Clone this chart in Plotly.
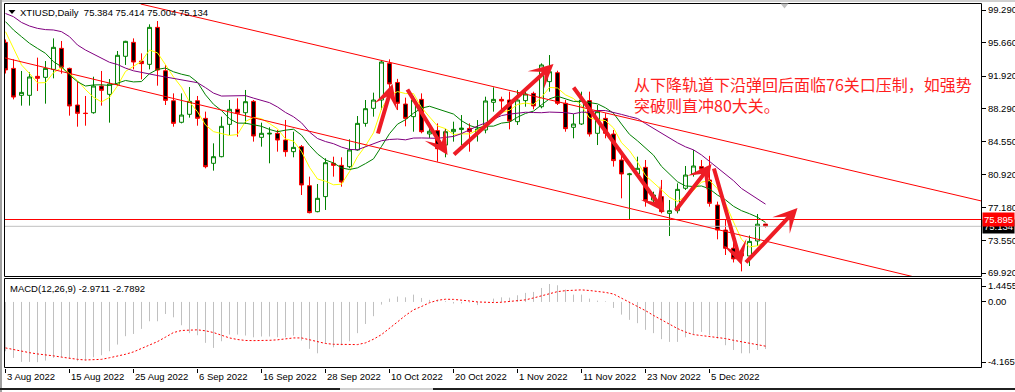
import plotly.graph_objects as go

# ---------------- data ----------------
date_labels = ["3 Aug 2022", "15 Aug 2022", "25 Aug 2022", "6 Sep 2022", "16 Sep 2022",
               "28 Sep 2022", "10 Oct 2022", "20 Oct 2022", "1 Nov 2022", "11 Nov 2022",
               "23 Nov 2022", "5 Dec 2022"]
date_idx = [0, 8, 16, 24, 32, 40, 48, 56, 64, 72, 80, 88]

opens = [95.68, 92.77, 89.76, 89.76, 91.88, 91.77, 92.66, 95.01, 92.77, 88.68,
         87.77, 87.82, 90.80, 89.87, 90.99, 94.12, 95.68, 93.59, 93.22, 97.35,
         92.51, 89.16, 86.75, 87.64, 89.16, 87.19, 82.17, 82.91, 86.52, 88.20,
         87.82, 89.09, 85.07, 85.44, 85.52, 84.77, 83.47, 84.03, 79.67, 76.77,
         78.45, 82.17, 81.94, 81.79, 83.66, 86.63, 88.31, 89.24, 93.33, 91.20,
         88.79, 87.38, 89.31, 85.45, 85.82, 84.21, 85.70, 85.94, 86.07, 85.60,
         85.89, 88.98, 89.31, 89.24, 86.82, 89.17, 89.98, 88.49, 91.29, 92.29,
         88.87, 86.19, 86.56, 89.17, 85.52, 87.19, 85.44, 82.54, 80.90, 80.98,
         81.72, 78.07, 78.45, 76.58, 76.88, 79.38, 80.98, 81.80, 80.31, 77.51,
         74.72, 72.70, 72.12, 71.82, 73.50, 75.384]
highs = [96.00, 93.78, 92.48, 92.33, 93.97, 93.59, 96.12, 95.83, 92.85, 91.29,
         89.69, 91.84, 92.48, 91.58, 94.71, 95.85, 96.12, 94.45, 97.69, 98.06,
         93.15, 89.98, 89.98, 90.69, 89.69, 87.94, 84.40, 87.38, 89.24, 89.43,
         90.36, 89.24, 86.71, 86.19, 85.89, 87.01, 85.70, 84.21, 80.68, 79.86,
         82.73, 82.91, 82.84, 84.85, 87.45, 89.24, 90.06, 93.71, 93.78, 91.60,
         89.50, 89.69, 89.98, 86.40, 86.63, 86.00, 86.82, 87.56, 86.63, 87.00,
         89.61, 90.65, 89.61, 90.17, 90.36, 90.54, 90.17, 93.33, 94.26, 92.51,
         89.24, 87.68, 90.17, 90.17, 88.68, 87.75, 85.89, 83.10, 81.10, 82.91,
         82.54, 79.00, 80.31, 78.07, 79.93, 81.87, 83.66, 82.54, 83.00, 77.89,
         75.84, 73.40, 72.60, 74.10, 76.51, 75.414]
lows = [92.20, 89.31, 88.61, 88.61, 90.24, 88.83, 91.66, 92.18, 87.49, 86.26,
        86.37, 87.71, 88.61, 86.71, 90.80, 93.15, 92.66, 91.55, 92.66, 90.84,
        88.68, 86.26, 86.63, 87.27, 86.37, 81.61, 81.35, 82.84, 85.33, 85.14,
        86.56, 84.59, 84.03, 82.17, 83.47, 82.91, 82.84, 78.63, 76.58, 76.70,
        76.96, 80.68, 79.56, 81.61, 83.58, 86.26, 87.38, 88.12, 89.98, 88.12,
        86.30, 85.70, 85.52, 85.00, 82.35, 82.84, 84.59, 84.21, 83.47, 84.60,
        85.52, 87.94, 87.94, 85.96, 86.45, 88.49, 88.20, 88.31, 90.17, 88.68,
        85.70, 84.96, 86.45, 85.15, 84.21, 84.96, 81.80, 78.26, 75.84, 80.68,
        77.33, 77.70, 76.58, 74.05, 76.58, 79.19, 80.68, 80.86, 77.33, 73.68,
        71.93, 71.10, 70.10, 70.70, 72.94, 75.004]
closes = [92.60, 89.57, 90.09, 91.81, 91.66, 92.77, 95.12, 92.89, 88.57, 87.75,
          87.73, 90.80, 90.32, 91.03, 94.23, 95.79, 93.48, 93.30, 97.35, 92.59,
          89.20, 86.63, 87.56, 89.09, 87.19, 81.79, 82.91, 86.30, 88.20, 87.75,
          89.05, 85.22, 85.52, 85.52, 84.77, 83.47, 83.95, 79.75, 76.66, 78.26,
          82.24, 81.94, 80.08, 83.66, 86.63, 88.27, 89.24, 93.48, 91.03, 88.87,
          87.19, 89.24, 85.70, 85.75, 83.80, 85.70, 85.96, 86.10, 85.70, 86.00,
          89.13, 89.31, 89.13, 86.89, 89.24, 89.91, 88.57, 93.15, 92.40, 88.87,
          86.04, 86.56, 89.24, 85.44, 87.94, 85.52, 82.47, 80.98, 80.98, 81.61,
          77.99, 78.63, 76.77, 76.88, 79.26, 80.86, 81.87, 81.50, 77.70, 74.72,
          72.68, 71.50, 71.82, 73.45, 75.37, 75.134]

ma_yellow = [96.87, 95.00, 93.15, 92.20, 91.15, 91.18, 92.29, 92.85, 92.20, 91.42,
             90.41, 89.55, 89.03, 89.53, 90.82, 92.43, 92.97, 93.57, 94.83, 94.50,
             93.18, 91.81, 90.67, 89.01, 87.93, 86.45, 85.71, 85.46, 85.28, 85.39,
             86.84, 87.30, 87.15, 86.61, 86.02, 84.90, 84.65, 83.49, 81.72, 80.42,
             80.17, 79.77, 79.84, 81.24, 82.91, 84.12, 85.58, 88.26, 89.73, 90.18,
             89.96, 89.96, 88.41, 87.35, 86.34, 86.04, 85.38, 85.46, 85.45, 85.89,
             86.58, 87.25, 87.85, 88.09, 88.74, 88.90, 88.75, 89.55, 90.65, 90.58,
             89.81, 89.40, 88.62, 87.23, 87.04, 86.94, 86.12, 84.47, 83.58, 82.31,
             80.81, 80.04, 79.20, 78.38, 77.91, 78.48, 79.13, 80.07, 80.24, 79.33,
             77.69, 75.62, 73.68, 72.83, 72.96, 73.45]
ma_green = [97.99, 97.06, 96.31, 95.57, 95.00, 94.45, 93.52, 92.96, 92.03, 91.28,
            90.80, 90.92, 90.94, 90.86, 91.12, 91.42, 91.26, 91.30, 92.18, 92.66,
            92.81, 92.39, 92.12, 91.92, 91.22, 89.82, 88.76, 88.06, 87.15, 86.66,
            86.65, 86.51, 86.30, 85.95, 85.70, 85.87, 85.98, 85.32, 84.17, 83.22,
            82.54, 82.21, 81.66, 81.48, 81.66, 82.14, 82.67, 84.05, 85.48, 86.54,
            87.04, 87.77, 88.33, 88.54, 88.26, 88.00, 87.67, 86.93, 86.40, 86.11,
            86.31, 86.32, 86.66, 86.77, 87.32, 87.74, 88.00, 88.70, 89.37, 89.66,
            89.35, 89.08, 89.09, 88.94, 88.81, 88.37, 87.76, 86.55, 85.40, 84.68,
            83.87, 83.08, 81.83, 80.98, 80.11, 79.64, 79.58, 79.64, 79.31, 78.62,
            78.09, 77.37, 76.88, 76.54, 76.15, 75.57]
ma_purple = [98.90, 98.54, 97.90, 97.50, 97.24, 97.10, 97.06, 96.87, 96.31, 95.38,
             94.82, 94.34, 93.89, 93.45, 93.20, 92.80, 92.50, 92.30, 92.10, 91.97,
             91.81, 91.66, 91.53, 91.39, 91.17, 90.62, 90.01, 89.68, 89.67, 89.66,
             89.73, 89.45, 89.21, 88.94, 88.46, 87.85, 87.37, 86.69, 85.66, 84.94,
             84.60, 84.36, 83.98, 83.72, 83.68, 84.01, 84.33, 84.69, 84.83, 84.88,
             84.79, 84.99, 85.00, 85.01, 84.96, 85.07, 85.17, 85.49, 85.94, 86.33,
             86.68, 87.05, 87.50, 87.66, 87.79, 87.87, 87.84, 87.82, 87.89, 87.89,
             87.83, 87.70, 87.88, 87.86, 88.07, 88.06, 87.88, 87.63, 87.39, 87.17,
             86.61, 86.08, 85.46, 84.96, 84.46, 84.01, 83.67, 83.10, 82.36, 81.65,
             80.98, 80.23, 79.36, 78.76, 78.13, 77.61]

macd_main = [-3.11, -3.53, -3.78, -3.78, -3.80, -3.70, -3.53, -3.49, -3.57, -3.74,
             -3.70, -3.49, -3.36, -3.11, -2.69, -2.16, -2.02, -1.70, -1.22, -1.22,
             -0.76, -0.97, -1.47, -1.97, -2.10, -2.58, -2.90, -2.48, -2.06, -2.06,
             -2.12, -2.23, -2.18, -2.18, -2.23, -2.23, -2.12, -2.44, -2.96, -3.24,
             -2.61, -2.86, -2.73, -2.48, -1.97, -1.39, -0.90, -0.17, 0.21, 0.34,
             0.29, 0.46, 0.25, 0.13, 0.13, 0.05, -0.10, -0.10, -0.04, -0.20,
             0.02, 0.21, 0.29, 0.27, 0.42, 0.57, 0.63, 0.88, 1.13, 1.05,
             0.78, 0.46, 0.46, 0.21, 0.08, 0.04, -0.38, -0.80, -1.13, -1.34,
             -1.76, -1.97, -2.35, -2.52, -2.52, -2.23, -2.06, -1.89, -2.10, -2.31,
             -2.73, -3.03, -3.24, -3.24, -3.03, -2.9711]
macd_signal = [-2.90, -3.00, -3.13, -3.20, -3.28, -3.33, -3.40, -3.48, -3.57, -3.62,
               -3.66, -3.66, -3.62, -3.52, -3.42, -3.30, -3.15, -2.95, -2.75, -2.50,
               -2.22, -1.93, -1.80, -1.76, -1.76, -1.82, -1.93, -2.10, -2.27, -2.37,
               -2.43, -2.44, -2.44, -2.42, -2.39, -2.33, -2.27, -2.27, -2.38, -2.48,
               -2.62, -2.67, -2.69, -2.70, -2.69, -2.58, -2.35, -2.06, -1.68, -1.26,
               -0.85, -0.50, -0.29, -0.05, 0.10, 0.17, 0.16, 0.13, 0.06, 0.00,
               -0.03, -0.04, -0.02, 0.03, 0.08, 0.13, 0.25, 0.38, 0.55, 0.65,
               0.71, 0.75, 0.76, 0.72, 0.67, 0.60, 0.50, 0.25, -0.04, -0.30,
               -0.55, -0.85, -1.13, -1.42, -1.68, -1.90, -2.06, -2.12, -2.18, -2.25,
               -2.31, -2.42, -2.52, -2.60, -2.68, -2.7892]

price_ticks = [99.29, 95.66, 91.92, 88.29, 84.55, 80.92, 77.18, 73.55, 69.92]
price_tick_text = ["99.290", "95.660", "91.920", "88.290", "84.550", "80.920", "77.180", "73.550", "69.920"]
macd_ticks = [1.004, 0.0, -3.788]
macd_tick_text = ["1.4455", "0.00", "-4.1659"]

level_red = 75.895
level_gray = 75.134

chan_upper_x = [16.9, 122.0]
chan_upper_y = [99.96, 77.96]
chan_lower_x = [-0.2, 122.0]
chan_lower_y = [93.97, 67.67]

arrow_tail_x = [46.5, 50.125, 55.875, 70.875, 83.625, 88.5, 92.375]
arrow_tail_y = [85.33, 90.58, 82.99, 90.80, 76.73, 81.76, 70.93]
arrow_head_x = [48.375, 55.25, 68.5, 82.375, 88.25, 92.0, 99.0]
arrow_head_y = [91.03, 83.10, 93.26, 76.73, 82.09, 70.81, 77.18]

title_text = "XTIUSD,Daily  75.384 75.414 75.004 75.134"
macd_text = "MACD(12,26,9) -2.9711 -2.7892"
comment_text = "从下降轨道下沿弹回后面临76关口压制，如强势<br>突破则直冲80大关。"

# ---------------- geometry helpers (pixel -> paper) ----------------
W, H = 1015, 392
ML, MR, MT, MB = 4, 34, 4, 24
PW, PH = W - ML - MR, H - MT - MB


def px(X):
    return (X - ML) / PW


def py(Y):
    return (H - MB - Y) / PH


FONT = "Liberation Sans, Arial, sans-serif"
xs = list(range(len(opens)))
x_min, x_max = -0.1875, -0.1875 + PW / 8.0

fig = go.Figure()

fig.add_trace(go.Candlestick(
    x=xs, open=opens, high=highs, low=lows, close=closes,
    increasing=dict(line=dict(color="#008000", width=1), fillcolor="#FFFFFF"),
    decreasing=dict(line=dict(color="#FF0000", width=1), fillcolor="#000000"),
    whiskerwidth=0, hoverinfo="skip", xaxis="x", yaxis="y"))

for ser, col in [(ma_yellow, "#FFFF00"), (ma_green, "#008000"), (ma_purple, "#800080")]:
    fig.add_trace(go.Scatter(x=xs, y=ser, mode="lines", line=dict(color=col, width=1),
                             hoverinfo="skip", xaxis="x", yaxis="y"))

fig.add_trace(go.Scatter(x=[x_min, x_max], y=[level_gray, level_gray], mode="lines",
                         line=dict(color="#C0C0C0", width=1), hoverinfo="skip", xaxis="x", yaxis="y"))
fig.add_trace(go.Scatter(x=[x_min, x_max], y=[level_red, level_red], mode="lines",
                         line=dict(color="#FF0000", width=1), hoverinfo="skip", xaxis="x", yaxis="y"))
fig.add_trace(go.Scatter(x=chan_upper_x, y=chan_upper_y, mode="lines",
                         line=dict(color="#FF0000", width=1), hoverinfo="skip", xaxis="x", yaxis="y"))
fig.add_trace(go.Scatter(x=chan_lower_x, y=chan_lower_y, mode="lines",
                         line=dict(color="#FF0000", width=1), hoverinfo="skip", xaxis="x", yaxis="y"))

# MACD histogram as thin vertical lines
hx, hy = [], []
for i, v in enumerate(macd_main):
    hx += [i, i, None]
    hy += [0, v, None]
fig.add_trace(go.Scatter(x=hx, y=hy, mode="lines", line=dict(color="#C0C0C0", width=1),
                         hoverinfo="skip", xaxis="x", yaxis="y2"))
fig.add_trace(go.Scatter(x=xs, y=macd_signal, mode="lines",
                         line=dict(color="#FF0000", width=1, dash="2px,2px"),
                         hoverinfo="skip", xaxis="x", yaxis="y2"))

annotations = []
for lab, ix in zip(date_labels, date_idx):
    annotations.append(dict(x=ix, xref="x", y=py(377), yref="paper", text=lab, showarrow=False,
                            xanchor="left", yanchor="middle", borderpad=0,
                            font=dict(family=FONT, size=9.5, color="black")))

annotations.append(dict(x=px(19), xref="paper", y=py(12.5), yref="paper", text=title_text,
                        showarrow=False, xanchor="left", yanchor="middle", borderpad=0,
                        font=dict(family=FONT, size=9.5, color="black")))
annotations.append(dict(x=px(9), xref="paper", y=py(288), yref="paper", text=macd_text,
                        showarrow=False, xanchor="left", yanchor="middle", borderpad=0,
                        font=dict(family=FONT, size=9.5, color="black")))
annotations.append(dict(x=px(633), xref="paper", y=py(94.5), yref="paper", text=comment_text,
                        showarrow=False, xanchor="left", yanchor="middle", align="left", borderpad=0,
                        font=dict(family="Noto Sans CJK SC", size=16, color="#FF1E1E")))

for tx, ty, hx_, hy_ in zip(arrow_tail_x, arrow_tail_y, arrow_head_x, arrow_head_y):
    annotations.append(dict(x=hx_, y=hy_, xref="x", yref="y", ax=tx, ay=ty, axref="x", ayref="y",
                            text="", showarrow=True, arrowhead=3, arrowsize=1.0, arrowwidth=4,
                            arrowcolor="#EE1C25", standoff=0, startstandoff=0))

annotations.append(dict(x=px(982), xref="paper", y=level_gray, yref="y", text="75.134",
                        showarrow=False, xanchor="left", yanchor="middle", bgcolor="#000000",
                        borderpad=1, font=dict(family=FONT, size=9.5, color="white")))
annotations.append(dict(x=px(982), xref="paper", y=level_red, yref="y", text="75.895",
                        showarrow=False, xanchor="left", yanchor="middle", bgcolor="#FF0000",
                        borderpad=1, font=dict(family=FONT, size=9.5, color="white")))

shapes = [
    # panel frames
    dict(type="rect", xref="paper", yref="paper", x0=px(4.5), x1=px(981.5), y0=py(276.5), y1=py(3.5),
         line=dict(color="black", width=1)),
    dict(type="rect", xref="paper", yref="paper", x0=px(4.5), x1=px(981.5), y0=py(367.5), y1=py(278.5),
         line=dict(color="black", width=1)),
    # window edges
    dict(type="line", xref="paper", yref="paper", x0=px(1), x1=px(1), y0=py(392), y1=py(0),
         line=dict(color="#A0A0A0", width=2)),
    dict(type="line", xref="paper", yref="paper", x0=px(0), x1=px(1015), y0=py(1), y1=py(1),
         line=dict(color="#A0A0A0", width=1)),
    dict(type="line", xref="paper", yref="paper", x0=px(0), x1=px(340), y0=py(389), y1=py(389),
         line=dict(color="#202020", width=2)),
    dict(type="line", xref="paper", yref="paper", x0=px(433), x1=px(1015), y0=py(389), y1=py(389),
         line=dict(color="#202020", width=2)),
    dict(type="line", xref="paper", yref="paper", x0=px(340), x1=px(433), y0=py(389), y1=py(389),
         line=dict(color="#D0D0D0", width=2)),
    # chart-shift marker and title icon
    dict(type="path", xref="paper", yref="paper",
         path=f"M {px(780.5)},{py(3.5)} L {px(788.5)},{py(3.5)} L {px(784.5)},{py(8.5)} Z",
         fillcolor="#C0C0C0", line=dict(width=0)),
    dict(type="path", xref="paper", yref="paper",
         path=f"M {px(8.5)},{py(10)} L {px(15.5)},{py(10)} L {px(12)},{py(14)} Z",
         fillcolor="#000000", line=dict(width=0)),
]

fig.update_layout(
    width=W, height=H, autosize=False,
    margin=dict(l=ML, r=MR, t=MT, b=MB, pad=0, autoexpand=False),
    paper_bgcolor="white", plot_bgcolor="white", showlegend=False,
    xaxis=dict(domain=[0, 1], range=[x_min, x_max], anchor="y2", showgrid=False, zeroline=False,
               showline=False, ticks="outside", ticklen=4, tickwidth=1, tickcolor="black",
               tickvals=date_idx, showticklabels=False, rangeslider=dict(visible=False),
               automargin=False),
    yaxis=dict(domain=[py(276), py(4)], range=[69.5855, 99.9598], side="right", anchor="x",
               showgrid=False, zeroline=False, showline=False, ticks="outside", ticklen=4,
               tickcolor="black", tickvals=price_ticks, ticktext=price_tick_text,
               tickfont=dict(family=FONT, size=9.5, color="black"), automargin=False),
    yaxis2=dict(domain=[0, py(279)], range=[-4.1659, 1.4455], side="right", anchor="x",
                showgrid=False, zeroline=False, showline=False, ticks="outside", ticklen=4,
                tickcolor="black", tickvals=macd_ticks, ticktext=macd_tick_text,
                tickfont=dict(family=FONT, size=9.5, color="black"), automargin=False),
    annotations=annotations, shapes=shapes,
)

fig.write_html("out.html", config={"displayModeBar": False},
               post_script="document.body.style.margin='0';document.body.style.overflow='hidden';")
